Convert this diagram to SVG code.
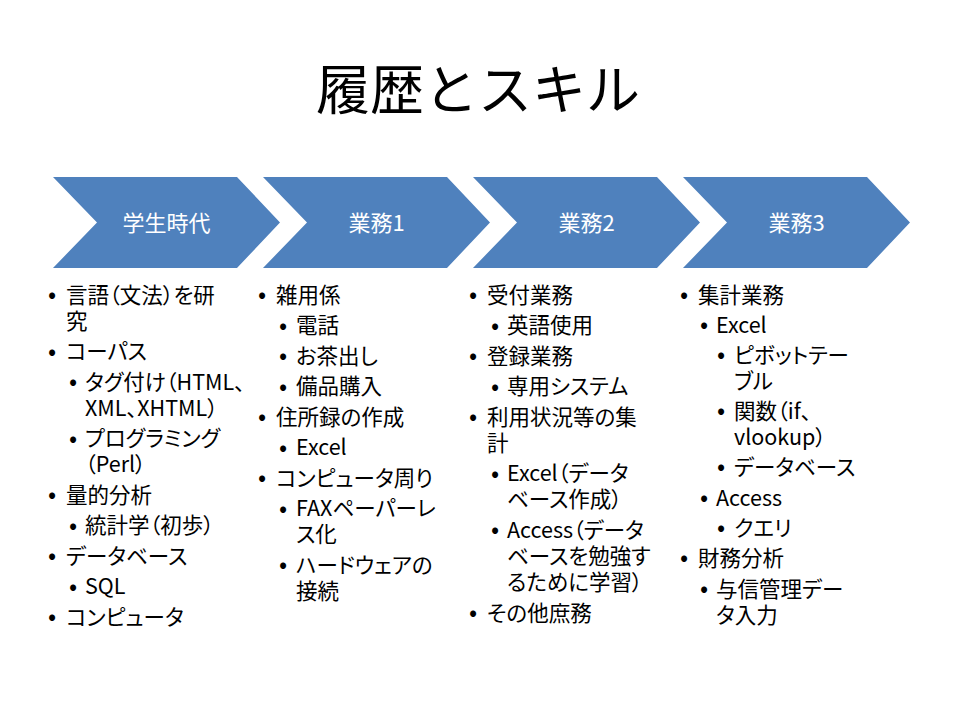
<svg xmlns="http://www.w3.org/2000/svg" width="960" height="720" viewBox="0 0 960 720">
<style>
.t{font-family:"Noto Sans CJK JP","Noto Sans",sans-serif;fill:#000}
.title{font-size:54px;text-anchor:middle}
.lbl{font-family:"Noto Sans CJK JP","Noto Sans",sans-serif;font-size:22px;fill:#fff;text-anchor:middle}
.b{font-size:21.5px;font-feature-settings:"palt"}
.d{font-size:24px;text-anchor:middle}
.chev{fill:#4F81BD}
</style>
<defs>
<path id="chev" d="M0,177 L184,177 L227,222.5 L184,268 L0,268 L44,222.5 Z"/>
</defs>
<rect width="960" height="720" fill="#fff"/>
<text class="t title" x="478" y="110">履歴とスキル</text>
<g id="connectors"/>
<g id="stage1">
<use href="#chev" class="chev" x="53"/>
<text class="lbl" x="166.5" y="231">学生時代</text>
</g>
<g id="stage2">
<use href="#chev" class="chev" x="263"/>
<text class="lbl" x="376.5" y="231">業務1</text>
</g>
<g id="stage3">
<use href="#chev" class="chev" x="473"/>
<text class="lbl" x="586.5" y="231">業務2</text>
</g>
<g id="stage4">
<use href="#chev" class="chev" x="683"/>
<text class="lbl" x="796.5" y="231">業務3</text>
</g>
<g id="list1" class="t">
<text class="d" x="52" y="303">•</text><text class="b" x="66" y="302.5">言語（文法）を研<tspan x="66" dy="26">究</tspan></text>
<text class="d" x="52" y="359.5">•</text><text class="b" x="66" y="359">コーパス</text>
<text class="d" x="73" y="390">•</text><text class="b" x="85" y="389.5">タグ付け（HTML、<tspan x="85" dy="26">XML、XHTML）</tspan></text>
<text class="d" x="73" y="446.5">•</text><text class="b" x="85" y="446">プログラミング<tspan x="85" dy="26">（Perl）</tspan></text>
<text class="d" x="52" y="503">•</text><text class="b" x="66" y="502.5">量的分析</text>
<text class="d" x="73" y="533.5">•</text><text class="b" x="85" y="533">統計学（初歩）</text>
<text class="d" x="52" y="564">•</text><text class="b" x="66" y="563.5">データベース</text>
<text class="d" x="73" y="594.5">•</text><text class="b" x="85" y="594">SQL</text>
<text class="d" x="52" y="625">•</text><text class="b" x="66" y="624.5">コンピュータ</text>
</g>
<g id="list2" class="t">
<text class="d" x="262" y="303">•</text><text class="b" x="276" y="302.5">雑用係</text>
<text class="d" x="283" y="333.5">•</text><text class="b" x="296" y="333">電話</text>
<text class="d" x="283" y="364">•</text><text class="b" x="296" y="363.5">お茶出し</text>
<text class="d" x="283" y="394.5">•</text><text class="b" x="296" y="394">備品購入</text>
<text class="d" x="262" y="425">•</text><text class="b" x="276" y="424.5">住所録の作成</text>
<text class="d" x="283" y="455.5">•</text><text class="b" x="296" y="455">Excel</text>
<text class="d" x="262" y="486">•</text><text class="b" x="276" y="485.5">コンピュータ周り</text>
<text class="d" x="283" y="516.5">•</text><text class="b" x="296" y="516">FAXペーパーレ<tspan x="296" dy="26">ス化</tspan></text>
<text class="d" x="283" y="573">•</text><text class="b" x="296" y="572.5">ハードウェアの<tspan x="296" dy="26">接続</tspan></text>
</g>
<g id="list3" class="t">
<text class="d" x="473" y="303">•</text><text class="b" x="487" y="302.5">受付業務</text>
<text class="d" x="495" y="333.5">•</text><text class="b" x="507" y="333">英語使用</text>
<text class="d" x="473" y="364">•</text><text class="b" x="487" y="363.5">登録業務</text>
<text class="d" x="495" y="394.5">•</text><text class="b" x="507" y="394">専用システム</text>
<text class="d" x="473" y="425">•</text><text class="b" x="487" y="424.5">利用状況等の集<tspan x="487" dy="26">計</tspan></text>
<text class="d" x="495" y="481.5">•</text><text class="b" x="507" y="481">Excel（データ<tspan x="507" dy="26">ベース作成）</tspan></text>
<text class="d" x="495" y="538">•</text><text class="b" x="507" y="537.5">Access（データ<tspan x="507" dy="26">ベースを勉強す</tspan><tspan x="507" dy="26">るために学習）</tspan></text>
<text class="d" x="473" y="621">•</text><text class="b" x="487" y="620.5">その他庶務</text>
</g>
<g id="list4" class="t">
<text class="d" x="684" y="303">•</text><text class="b" x="698" y="302.5">集計業務</text>
<text class="d" x="704" y="333">•</text><text class="b" x="716" y="332.5">Excel</text>
<text class="d" x="721" y="363">•</text><text class="b" x="734" y="362.5">ピボットテー<tspan x="734" dy="26">ブル</tspan></text>
<text class="d" x="721" y="419">•</text><text class="b" x="734" y="418.5">関数（if、<tspan x="734" dy="26">vlookup）</tspan></text>
<text class="d" x="721" y="475">•</text><text class="b" x="734" y="474.5">データベース</text>
<text class="d" x="704" y="506">•</text><text class="b" x="716" y="505.5">Access</text>
<text class="d" x="721" y="536">•</text><text class="b" x="734" y="535.5">クエリ</text>
<text class="d" x="684" y="566">•</text><text class="b" x="698" y="565.5">財務分析</text>
<text class="d" x="704" y="597">•</text><text class="b" x="716" y="596.5">与信管理デー<tspan x="716" dy="26">タ入力</tspan></text>
</g>
</svg>
